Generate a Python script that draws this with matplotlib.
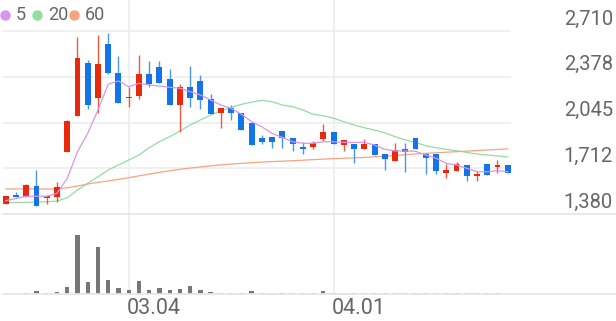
import numpy as np
import matplotlib.pyplot as plt
from matplotlib.lines import Line2D
import matplotlib.transforms as mtransforms

plt.rcParams['font.family'] = ['Roboto', 'DejaVu Sans']

# Daily candles (price in won)
opens = [1453, 1518, 1506, 1586, 1494, 1506, 1831, 2094, 2480, 2225,
         2613, 2403, 2221, 2238, 2397, 2446, 2359, 2172, 2301, 2349,
         2214, 2112, 2148, 2116, 2039, 1935, 1937, 1985, 1935, 1869,
         1865, 1925, 1974, 1881, 1887, 1852, 1887, 1814, 1765, 1850,
         1935, 1814, 1814, 1680, 1692, 1736, 1658, 1743, 1724, 1736]
highs = [1513, 1542, 1598, 1698, 1509, 1613, 2060, 2669, 2499, 2681,
         2693, 2530, 2305, 2536, 2492, 2492, 2432, 2325, 2458, 2390,
         2252, 2153, 2172, 2116, 2039, 1954, 1942, 1985, 1935, 1901,
         1913, 2032, 1974, 1918, 1887, 1923, 1887, 1814, 1894, 1894,
         1935, 1825, 1814, 1741, 1760, 1736, 1692, 1743, 1772, 1736]
lows = [1453, 1501, 1501, 1438, 1450, 1469, 1828, 2094, 2143, 2112,
        2395, 2185, 2160, 2214, 2305, 2330, 2172, 1978, 2155, 2141,
        2107, 2003, 2063, 1990, 1881, 1887, 1862, 1862, 1838, 1816,
        1850, 1911, 1887, 1838, 1748, 1852, 1809, 1700, 1765, 1687,
        1852, 1671, 1671, 1644, 1692, 1622, 1620, 1663, 1676, 1680]
closes = [1513, 1506, 1591, 1438, 1509, 1576, 2056, 2512, 2172, 2470,
          2403, 2185, 2233, 2397, 2325, 2334, 2172, 2301, 2225, 2209,
          2107, 2153, 2112, 1990, 1881, 1901, 1901, 1930, 1887, 1850,
          1894, 1974, 1887, 1918, 1852, 1887, 1809, 1780, 1845, 1828,
          1852, 1785, 1692, 1700, 1743, 1658, 1668, 1663, 1736, 1680]

# Volume (thousand shares)
volumes = [10, 10, 20, 90, 30, 70, 210, 1760, 350, 1420,
           410, 180, 130, 380, 110, 180, 110, 150, 230, 130,
           60, 45, 45, 45, 80, 40, 40, 40, 40, 40,
           40, 80, 35, 35, 35, 35, 35, 35, 35, 35,
           35, 35, 35, 35, 35, 35, 35, 35, 30, 5]

# Moving averages
ma5 = [1477, 1493, 1509, 1509, 1509, 1530, 1639, 1833, 1966, 2136,
       2323, 2347, 2305, 2330, 2318, 2310, 2301, 2294, 2269, 2245,
       2209, 2172, 2148, 2105, 2051, 2014, 1966, 1937, 1905, 1894,
       1894, 1905, 1905, 1901, 1901, 1901, 1881, 1850, 1838, 1838,
       1836, 1809, 1785, 1748, 1736, 1712, 1687, 1687, 1695, 1687]
ma20 = [1462, 1464, 1465, 1467, 1469, 1474, 1498, 1554, 1603, 1651,
        1700, 1736, 1772, 1809, 1862, 1905, 1942, 1983, 2027, 2063,
        2099, 2129, 2155, 2177, 2193, 2206, 2196, 2172, 2160, 2136,
        2105, 2094, 2076, 2051, 2027, 2007, 1990, 1970, 1942, 1918,
        1901, 1876, 1862, 1850, 1840, 1828, 1816, 1809, 1802, 1794]
ma60 = [1562, 1562, 1562, 1562, 1562, 1562, 1571, 1583, 1598, 1610,
        1620, 1632, 1644, 1657, 1670, 1683, 1694, 1705, 1714, 1722,
        1730, 1737, 1743, 1748, 1753, 1757, 1761, 1764, 1767, 1771,
        1775, 1779, 1782, 1785, 1788, 1791, 1796, 1800, 1805, 1811,
        1816, 1821, 1825, 1829, 1833, 1837, 1841, 1845, 1849, 1853]

price_ticks = [1380, 1712.5, 2045, 2377.5, 2710]
price_labels = ['1,380', '1,712', '2,045', '2,378', '2,710']
date_pos = [12, 32]
date_labels = ['03.04', '04.01']
ma_names = ['5', '20', '60']
ma_colors = ['#d993f3', '#94dca0', '#f7a47f']

UP, UP_WICK = '#e8290c', '#ef5a3c'
DOWN, DOWN_WICK = '#1274e8', '#4b96ef'
GRID = '#eeeeee'
TEXT = '#666666'

W, H = 616, 321
fig = plt.figure(figsize=(W / 100, H / 100), dpi=100)

def px_axes(x0, y0, x1, y1):
    return fig.add_axes([x0 / W, 1 - y1 / H, (x1 - x0) / W, (y1 - y0) / H])

ax = px_axes(3, 0, 511, 214)
axv = px_axes(3, 214, 511, 294)

n = len(closes)
x = np.arange(n)
xlim = (-0.27, 49.32)

# Candles
for i in range(n):
    o, h, l, c = opens[i], highs[i], lows[i], closes[i]
    up = c >= o
    ax.vlines(i, l, h, color=UP_WICK if up else DOWN_WICK, lw=1.0, zorder=3)
    bot, top = min(o, c), max(o, c)
    ax.bar(i, max(top - bot, 8), bottom=bot, width=0.58,
           color=UP if up else DOWN, zorder=4)

ax.plot(x, ma5, color=ma_colors[0], lw=0.9, zorder=5)
ax.plot(x, ma20, color=ma_colors[1], lw=0.9, zorder=2)
ax.plot(x, ma60, color=ma_colors[2], lw=0.9, zorder=2)

ax.set_xlim(*xlim)
ax.set_ylim(1380, 2710 + 31 * 1330 / 183)
for t in price_ticks[1:]:
    ax.axhline(t, color=GRID, lw=1.2, zorder=0)
for p in date_pos:
    ax.axvline(p, color=GRID, lw=1.2, zorder=0)
ax.axis('off')

# Price labels on the right
trans = mtransforms.blended_transform_factory(fig.transFigure, ax.transData)
trans = mtransforms.offset_copy(trans, fig=fig, y=12, units='dots')
for t, lab in zip(price_ticks, price_labels):
    ax.text(613 / W, t, lab, transform=trans, ha='right', va='center',
            fontsize=14.5, color=TEXT, clip_on=False)

# Volume
axv.bar(x, volumes, width=0.42, color='#777777')
axv.set_xlim(*xlim)
axv.set_ylim(0, 2400)
for p in date_pos:
    axv.axvline(p, color=GRID, lw=1.2, zorder=0)
axv.axis('off')
for p, lab in zip(date_pos, date_labels):
    axv.annotate(lab, (p, 0), xytext=(-2, -14), textcoords='offset pixels',
                 ha='left', va='center', fontsize=15.5, color=TEXT,
                 annotation_clip=False)

# Full-width separators
for yy in (214, 294):
    fig.add_artist(Line2D([3 / W, 1], [1 - yy / H] * 2, color='#e6e6e6',
                          lw=1.3, transform=fig.transFigure))

# Legend (dot + label, top left)
dot_x = [5, 36.7, 74]
for dx, name, col in zip(dot_x, ma_names, ma_colors):
    fig.add_artist(Line2D([dx / W], [1 - 15 / H], marker='o', ls='',
                          color=col, markersize=6.5,
                          transform=fig.transFigure))
    fig.text((dx + 11) / W, 1 - 15.5 / H, name, ha='left', va='center',
             fontsize=13, color=TEXT)

fig.savefig('out.png', dpi=100)
